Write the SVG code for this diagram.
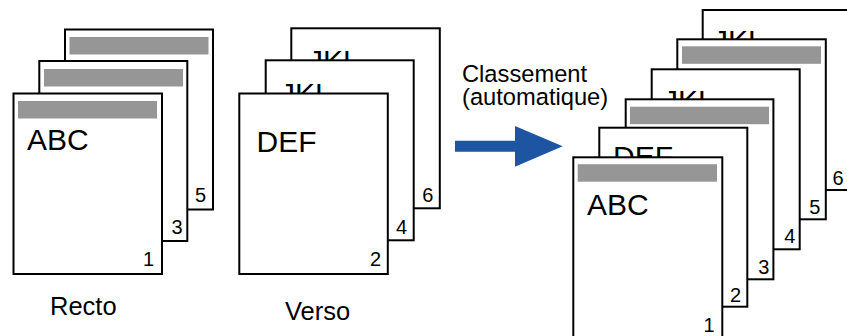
<svg xmlns="http://www.w3.org/2000/svg" width="847" height="336" viewBox="0 0 847 336">
<style>
  .sheet{fill:#fff;stroke:#000;stroke-width:2}
  .bar{fill:#969696}
  text{font-family:"Liberation Sans",Arial,sans-serif;fill:#000}
  .big{font-size:30px}
  .num{font-size:20px;text-anchor:end}
  .lbl{font-size:25.5px}
  .cap{font-size:23.7px}
  .arrow{fill:#1D55A3}
</style>
<rect width="847" height="336" fill="#fff"/>

<!-- Recto stack -->
<g id="recto-p5">
  <rect class="sheet" x="65" y="29.5" width="148" height="180"/>
  <rect class="bar" x="69.5" y="37" width="139" height="17.5"/>
  <text class="num" x="206" y="201.5">5</text>
</g>
<g id="recto-p3">
  <rect class="sheet" x="39.3" y="61" width="148" height="180"/>
  <rect class="bar" x="44" y="69" width="139" height="17.5"/>
  <text class="num" x="182.7" y="233.5">3</text>
</g>
<g id="recto-p1">
  <rect class="sheet" x="13.5" y="93.5" width="148.5" height="180.5"/>
  <rect class="bar" x="18" y="101" width="139" height="17.5"/>
  <text class="big" x="27" y="149.5">ABC</text>
  <text class="num" x="154" y="265.5">1</text>
</g>
<g id="recto-label">
  <text class="lbl" x="50" y="315">Recto</text>
</g>

<!-- Verso stack -->
<g id="verso-p6">
  <rect class="sheet" x="291.3" y="28.3" width="148.5" height="180"/>
  <text class="big" x="308" y="70.5">JKL</text>
  <text class="num" x="433.3" y="201.7">6</text>
</g>
<g id="verso-p4">
  <rect class="sheet" x="265.7" y="60.3" width="148" height="180"/>
  <text class="big" x="280" y="104">JKL</text>
  <text class="num" x="407" y="233.5">4</text>
</g>
<g id="verso-p2">
  <rect class="sheet" x="239.3" y="93.5" width="148.5" height="180.5"/>
  <text class="big" x="256.5" y="151.5">DEF</text>
  <text class="num" x="381" y="265.5">2</text>
</g>
<g id="verso-label">
  <text class="lbl" x="285" y="319.5">Verso</text>
</g>

<!-- Connector -->
<g id="connectors">
  <polygon class="arrow" points="455,140.7 515,140.7 515,126 562.7,146.3 515,166.7 515,151.8 455,151.8"/>
</g>
<g id="sort-label">
  <text class="cap" x="462" y="81.5">Classement</text>
  <text class="cap" x="462" y="105">(automatique)</text>
</g>

<!-- Sorted stack -->
<g id="sorted-p6">
  <rect class="sheet" x="702.7" y="10" width="148" height="180"/>
  <text class="big" x="713" y="51">JKL</text>
  <text class="num" x="843.7" y="184.5">6</text>
</g>
<g id="sorted-p5">
  <rect class="sheet" x="677.3" y="39.3" width="148.5" height="180"/>
  <rect class="bar" x="682" y="46.3" width="139" height="17.5"/>
  <text class="num" x="820.3" y="213.5">5</text>
</g>
<g id="sorted-p4">
  <rect class="sheet" x="651.7" y="69.3" width="148" height="180"/>
  <text class="big" x="663" y="111">JKL</text>
  <text class="num" x="795.3" y="242.5">4</text>
</g>
<g id="sorted-p3">
  <rect class="sheet" x="625.7" y="99.3" width="147.7" height="180"/>
  <rect class="bar" x="630" y="106.7" width="139" height="17.5"/>
  <text class="num" x="769.3" y="273.5">3</text>
</g>
<g id="sorted-p2">
  <rect class="sheet" x="599.3" y="127.7" width="148" height="179"/>
  <text class="big" x="613" y="167">DEF</text>
  <text class="num" x="741" y="301.7">2</text>
</g>
<g id="sorted-p1">
  <rect class="sheet" x="573.3" y="157.3" width="149" height="182"/>
  <rect class="bar" x="577.7" y="164.2" width="139.3" height="17.5"/>
  <text class="big" x="587" y="215">ABC</text>
  <text class="num" x="714.5" y="331.7">1</text>
</g>
</svg>
